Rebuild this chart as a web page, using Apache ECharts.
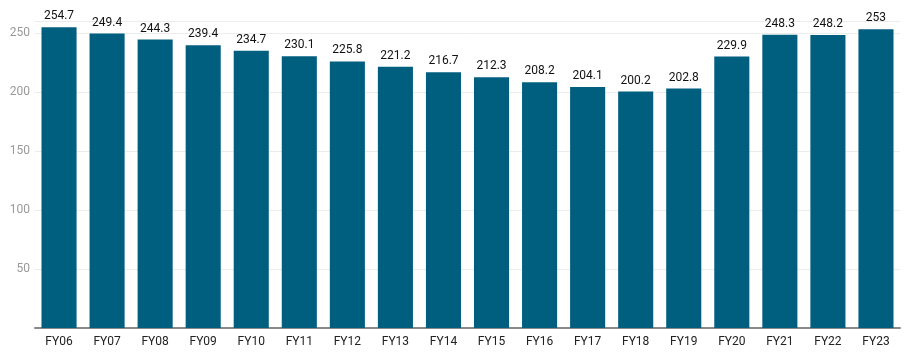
<!DOCTYPE html>
<html><head><meta charset="utf-8">
<script src="https://cdn.jsdelivr.net/npm/echarts@6/dist/echarts.min.js"></script>
<style>html,body{margin:0;padding:0;background:#fff}#c{width:909px;height:359px}</style>
</head><body><div id="c"></div>
<script>
const categories = ["FY06","FY07","FY08","FY09","FY10","FY11","FY12","FY13","FY14","FY15","FY16","FY17","FY18","FY19","FY20","FY21","FY22","FY23"];
const values = [254.7,249.4,244.3,239.4,234.7,230.1,225.8,221.2,216.7,212.3,208.2,204.1,200.2,202.8,229.9,248.3,248.2,253];
const yTicks = [50,100,150,200,250];
const chart = echarts.init(document.getElementById('c'));
chart.setOption({
  animation:false,
  textStyle:{fontFamily:'Roboto'},
  grid:{left:35,right:9,top:21,bottom:31},
  xAxis:{type:'category',data:categories,
    axisLine:{lineStyle:{color:'#888',width:2}},
    axisTick:{show:false},
    axisLabel:{color:'#222',fontSize:12,margin:8,fontFamily:'Roboto'}},
  yAxis:{type:'value',min:0,max:260,interval:50,
    axisLine:{show:false},axisTick:{show:false},
    splitLine:{lineStyle:{color:'#ececec'}},
    axisLabel:{color:'#999',fontSize:12,margin:5,fontFamily:'Roboto',
      formatter:v=>yTicks.includes(v)?String(v):''}},
  series:[{type:'bar',data:values,barCategoryGap:'27%',
    itemStyle:{color:'#005f7f'},
    label:{show:true,position:'top',color:'#111',fontSize:12,distance:5,fontFamily:'Roboto'}}]
});
</script></body></html>
